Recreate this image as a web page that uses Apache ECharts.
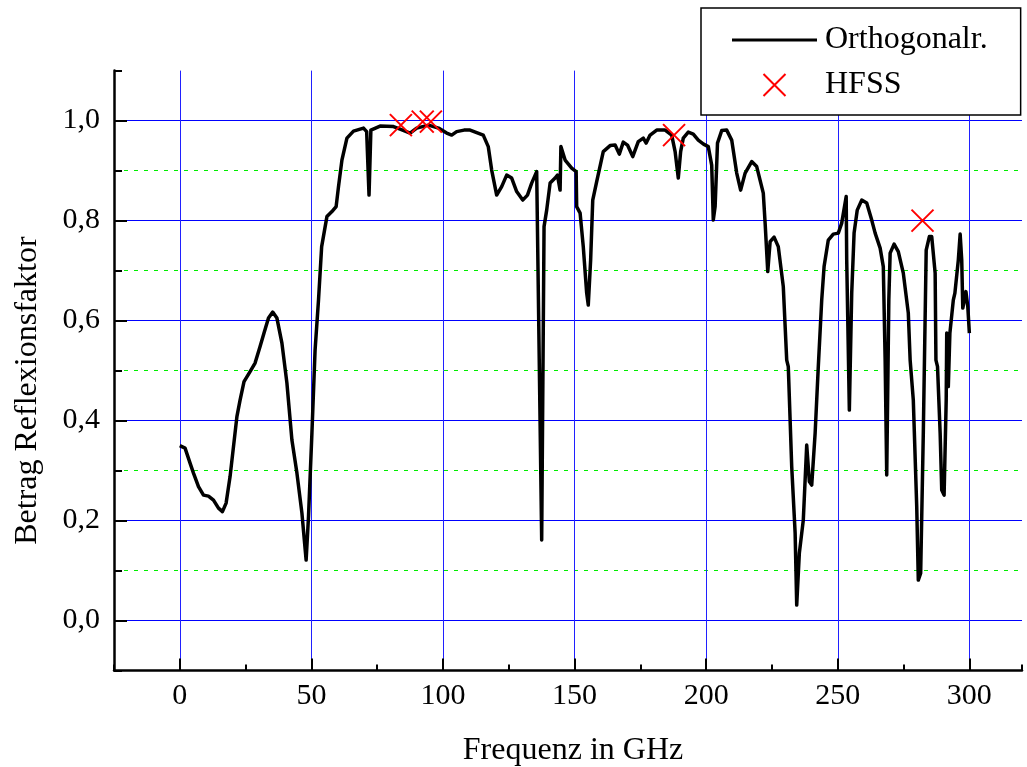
<!DOCTYPE html>
<html><head><meta charset="utf-8">
<script src="https://cdn.jsdelivr.net/npm/echarts@6/dist/echarts.min.js"></script>
<style>html,body{margin:0;padding:0;background:#fff}#c{width:1027px;height:767px}</style>
</head><body><div id="c"></div>
<script>
// Frequency (GHz) of the computed curve
const freq = [0,2.0,3.9,5.2,7.1,9.0,10.9,12.8,14.7,16.2,17.6,19.1,20.4,21.7,22.9,24.4,26.7,28.6,30.5,32.0,33.7,35.3,36.9,38.8,40.7,42.6,44.5,46.4,48.0,48.9,50.2,51.4,52.7,53.9,55.9,57.8,59.4,60.3,61.6,63.5,66.0,69.8,71.0,71.9,72.6,76.1,81.2,83.7,87.5,90.0,94.5,98.3,101.4,103.3,105.2,108.0,110.3,115.3,117.2,118.5,120.4,122.3,124.2,126.1,128.0,130.3,132.1,133.7,135.6,136.2,137.5,138.4,139.4,140.7,142.6,143.5,144.5,144.8,146.4,148.9,150.6,150.8,152.1,153.3,154.6,155.2,156.1,156.9,158.4,160.9,163.5,165.4,167.0,168.5,170.1,172.1,174.2,176.1,177.2,178.7,181.2,184.4,186.9,188.2,189.4,190.3,191.3,193.2,195.1,197.0,199.0,200.8,202.1,202.7,203.4,204.3,205.9,207.8,209.7,211.6,213.1,214.8,217.3,219.2,221.7,222.4,223.4,224.3,225.8,227.4,229.3,230.6,231.2,232.5,233.8,234.4,235.4,236.9,238.2,239.2,240.1,241.4,242.6,243.9,244.8,246.4,248.3,250.2,251.5,253.2,253.4,254.4,255.3,256.2,257.4,259.1,261.0,262.9,264.2,266.1,267.3,268.0,268.6,269.4,269.9,271.4,273.0,274.9,276.8,277.5,278.7,280.0,280.6,281.5,282.5,283.3,283.6,284.1,284.8,285.7,287.0,287.3,287.9,288.9,289.5,290.4,291.2,291.4,292.0,292.6,293.9,294.5,295.8,296.5,297.1,297.5,298.1,298.7,299.4,300.0];
// |Reflexionsfaktor| (Orthogonalr.)
const refl = [0.35,0.345,0.315,0.295,0.268,0.251,0.249,0.241,0.225,0.218,0.235,0.288,0.348,0.408,0.441,0.478,0.498,0.515,0.548,0.575,0.605,0.617,0.605,0.555,0.475,0.361,0.295,0.215,0.121,0.208,0.375,0.541,0.641,0.748,0.808,0.818,0.828,0.868,0.921,0.965,0.979,0.985,0.978,0.851,0.981,0.989,0.988,0.983,0.975,0.985,0.991,0.985,0.975,0.971,0.978,0.981,0.981,0.971,0.948,0.901,0.851,0.868,0.891,0.885,0.858,0.841,0.851,0.875,0.898,0.895,0.161,0.788,0.821,0.875,0.885,0.891,0.861,0.948,0.921,0.905,0.898,0.828,0.815,0.748,0.655,0.631,0.721,0.841,0.878,0.938,0.950,0.951,0.933,0.957,0.951,0.928,0.958,0.965,0.955,0.971,0.981,0.981,0.971,0.938,0.885,0.938,0.965,0.977,0.973,0.961,0.953,0.948,0.911,0.801,0.828,0.955,0.98,0.981,0.961,0.895,0.861,0.895,0.918,0.908,0.855,0.795,0.698,0.758,0.767,0.748,0.668,0.521,0.508,0.308,0.175,0.031,0.135,0.201,0.351,0.278,0.271,0.375,0.508,0.641,0.708,0.761,0.773,0.775,0.795,0.848,0.721,0.421,0.655,0.775,0.821,0.841,0.835,0.801,0.775,0.745,0.708,0.521,0.291,0.641,0.735,0.753,0.738,0.695,0.615,0.521,0.441,0.228,0.081,0.095,0.375,0.641,0.741,0.738,0.768,0.768,0.695,0.521,0.508,0.375,0.261,0.251,0.441,0.575,0.468,0.575,0.641,0.655,0.721,0.773,0.721,0.625,0.628,0.658,0.628,0.575];
// HFSS reference points
const hfssFreq = [84.0, 92.3, 95.4, 187.8, 282.2];
const hfssVal = [0.991, 0.998, 0.998, 0.971, 0.80];
// Tick values
const xMajorTicks = [0, 50, 100, 150, 200, 250, 300];
const yMajorTicks = [0, 0.2, 0.4, 0.6, 0.8, 1.0];

const FONT = 'Liberation Serif';
const lineData = freq.map((f, i) => [f, refl[i]]);
const hfssData = hfssFreq.map((f, i) => [f, hfssVal[i]]);

const chart = echarts.init(document.getElementById('c'), null, {renderer: 'canvas'});
const xBase = {type: 'value', min: -25, max: 320, position: 'bottom', gridIndex: 0};
const yBase = {type: 'value', min: -0.1, max: 1.1, position: 'left', gridIndex: 0};
chart.setOption({
  animation: false,
  backgroundColor: '#fff',
  grid: {left: 114, right: 5, top: 70.6, bottom: 96.4, outerBoundsMode: 'none', containLabel: false},
  legend: {
    orient: 'vertical', left: 701, top: 8,
    itemWidth: 85, itemHeight: 22, itemGap: 13,
    padding: [16, 33, 14, 31],
    borderColor: '#000', borderWidth: 1.5, backgroundColor: '#fff',
    textStyle: {fontFamily: FONT, fontSize: 32, color: '#000', padding: [0, 0, 0, 3]},
    data: [
      {name: 'Orthogonalr.', icon: 'path://M0,0L85,0L85,3L0,3Z', itemStyle: {color: '#000'}},
      {name: 'HFSS'}
    ]
  },
  xAxis: [
    Object.assign({}, xBase, {
      name: 'Frequenz in GHz', nameLocation: 'middle', nameGap: 64,
      nameTextStyle: {fontFamily: FONT, fontSize: 32, color: '#000', padding: [0, 0, 0, 10]},
      axisLine: {show: true, onZero: false, lineStyle: {color: '#000', width: 2.5}},
      axisTick: {show: true, inside: true, length: 12, customValues: xMajorTicks, lineStyle: {color: '#000', width: 2}},
      axisLabel: {show: true, customValues: xMajorTicks, margin: 11, fontFamily: FONT, fontSize: 30, color: '#000'},
      splitLine: {show: true, lineStyle: {color: '#2020ff', width: 1, opacity: 1}}
    }),
    Object.assign({}, xBase, {
      interval: 25,
      axisLine: {show: false, onZero: false},
      axisTick: {show: true, inside: true, length: 6, lineStyle: {color: '#000', width: 2}},
      axisLabel: {show: false},
      splitLine: {show: false}
    })
  ],
  yAxis: [
    Object.assign({}, yBase, {
      interval: 0.1,
      name: 'Betrag Reflexionsfaktor', nameLocation: 'middle', nameGap: 70,
      nameTextStyle: {fontFamily: FONT, fontSize: 32, color: '#000', padding: [0, 40, 0, 0]},
      axisLine: {show: true, onZero: false, lineStyle: {color: '#000', width: 2.5}},
      axisTick: {show: true, inside: true, length: 8, lineStyle: {color: '#000', width: 2}},
      axisLabel: {
        show: true, margin: 14, fontFamily: FONT, fontSize: 30, color: '#000',
        formatter: v => {
          const k = Math.round(v * 10);
          return (k >= 0 && k <= 10 && k % 2 === 0) ? (k / 10).toFixed(1).replace('.', ',') : '';
        }
      },
      splitLine: {show: false}
    }),
    Object.assign({}, yBase, {
      interval: 0.2,
      axisLine: {show: false, onZero: false},
      axisTick: {show: false},
      axisLabel: {show: false},
      splitLine: {show: true, showMinLine: false, showMaxLine: false, lineStyle: {color: '#00ee00', width: 1.2, opacity: 1, type: [4, 6]}}
    }),
    Object.assign({}, yBase, {
      axisLine: {show: false, onZero: false},
      axisTick: {show: true, inside: true, length: 13, customValues: yMajorTicks, lineStyle: {color: '#000', width: 2}},
      axisLabel: {show: false},
      splitLine: {show: true, lineStyle: {color: '#0000ff', width: 1.2, opacity: 1}}
    })
  ],
  series: [
    {
      name: 'Orthogonalr.', type: 'line', xAxisIndex: 0, yAxisIndex: 0,
      data: lineData, symbol: 'none', showSymbol: false, smooth: false,
      lineStyle: {color: '#000', width: 3.5, join: 'round'},
      itemStyle: {color: '#000'},
      z: 3
    },
    {
      name: 'HFSS', type: 'scatter', xAxisIndex: 0, yAxisIndex: 0,
      data: hfssData, symbol: 'path://M0,0L10,10M10,0L0,10', symbolSize: 22,
      itemStyle: {color: 'rgba(0,0,0,0)', borderColor: '#ff0000', borderWidth: 2, opacity: 1},
      z: 4
    }
  ]
});
</script>
</body></html>
